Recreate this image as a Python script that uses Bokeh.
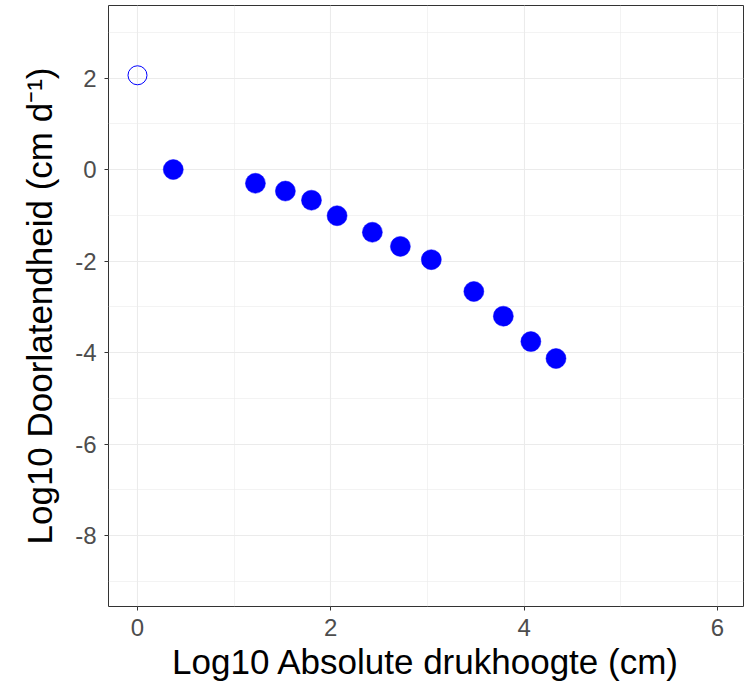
from bokeh.plotting import figure
from bokeh.models import Range1d, FixedTicker
from bokeh.embed import file_html
from bokeh.resources import INLINE

# data
open_x = [0.0]
open_y = [2.06]
filled_x = [0.37, 1.22, 1.53, 1.80, 2.065, 2.43, 2.72, 3.04, 3.48, 3.785, 4.07, 4.33]
filled_y = [0.0, -0.30, -0.47, -0.67, -1.01, -1.37, -1.68, -1.97, -2.665, -3.205, -3.76, -4.13]
x_ticks = [0, 2, 4, 6]
y_ticks = [-8, -6, -4, -2, 0, 2]
x_minor = [1, 3, 5]
y_minor = [-9, -7, -5, -3, -1, 1, 3]

FONT = "Liberation Sans"

p = figure(width=745, height=684, output_backend="svg", toolbar_location=None,
           x_range=Range1d(-0.30, 6.27), y_range=Range1d(-9.55, 3.585),
           min_border_left=108, min_border_right=2, min_border_top=5, min_border_bottom=78)

p.background_fill_color = "white"
p.border_fill_color = "white"
p.outline_line_color = "#333333"
p.outline_line_width = 1

for ax in (p.xaxis[0], p.yaxis[0]):
    ax.axis_line_color = None
    ax.major_tick_line_color = "#333333"
    ax.major_tick_out = 4
    ax.major_tick_in = 0
    ax.minor_tick_line_color = None
    ax.major_label_text_color = "#4D4D4D"
    ax.major_label_text_font = FONT
    ax.major_label_text_font_size = "24px"
    ax.axis_label_text_font = FONT
    ax.axis_label_text_font_size = "35px"
    ax.axis_label_text_font_style = "normal"
    ax.axis_label_text_color = "black"

p.xaxis.ticker = FixedTicker(ticks=x_ticks, minor_ticks=x_minor)
p.yaxis.ticker = FixedTicker(ticks=y_ticks, minor_ticks=y_minor)
p.xaxis.major_label_overrides = {t: str(t) for t in x_ticks}
p.yaxis.major_label_overrides = {t: str(t) for t in y_ticks}
p.xaxis.axis_label = "Log10 Absolute drukhoogte (cm)"
p.yaxis.axis_label = "Log10 Doorlatendheid (cm d\u207b\u00b9)"
p.xaxis.major_label_standoff = 8
p.yaxis.major_label_standoff = 8
p.xaxis.axis_label_standoff = 3
p.yaxis.axis_label_standoff = 13

for g in (p.xgrid[0], p.ygrid[0]):
    g.grid_line_color = "#EBEBEB"
    g.grid_line_width = 1.1
    g.minor_grid_line_color = "#EBEBEB"
    g.minor_grid_line_width = 0.6

p.scatter(filled_x, filled_y, size=20, fill_color="#0000FF", line_color="#0000FF", line_width=0.5)
p.scatter(open_x, open_y, size=19, fill_color=None, line_color="#0000FF", line_width=1)

open("out.html", "w").write(file_html(p, INLINE))
